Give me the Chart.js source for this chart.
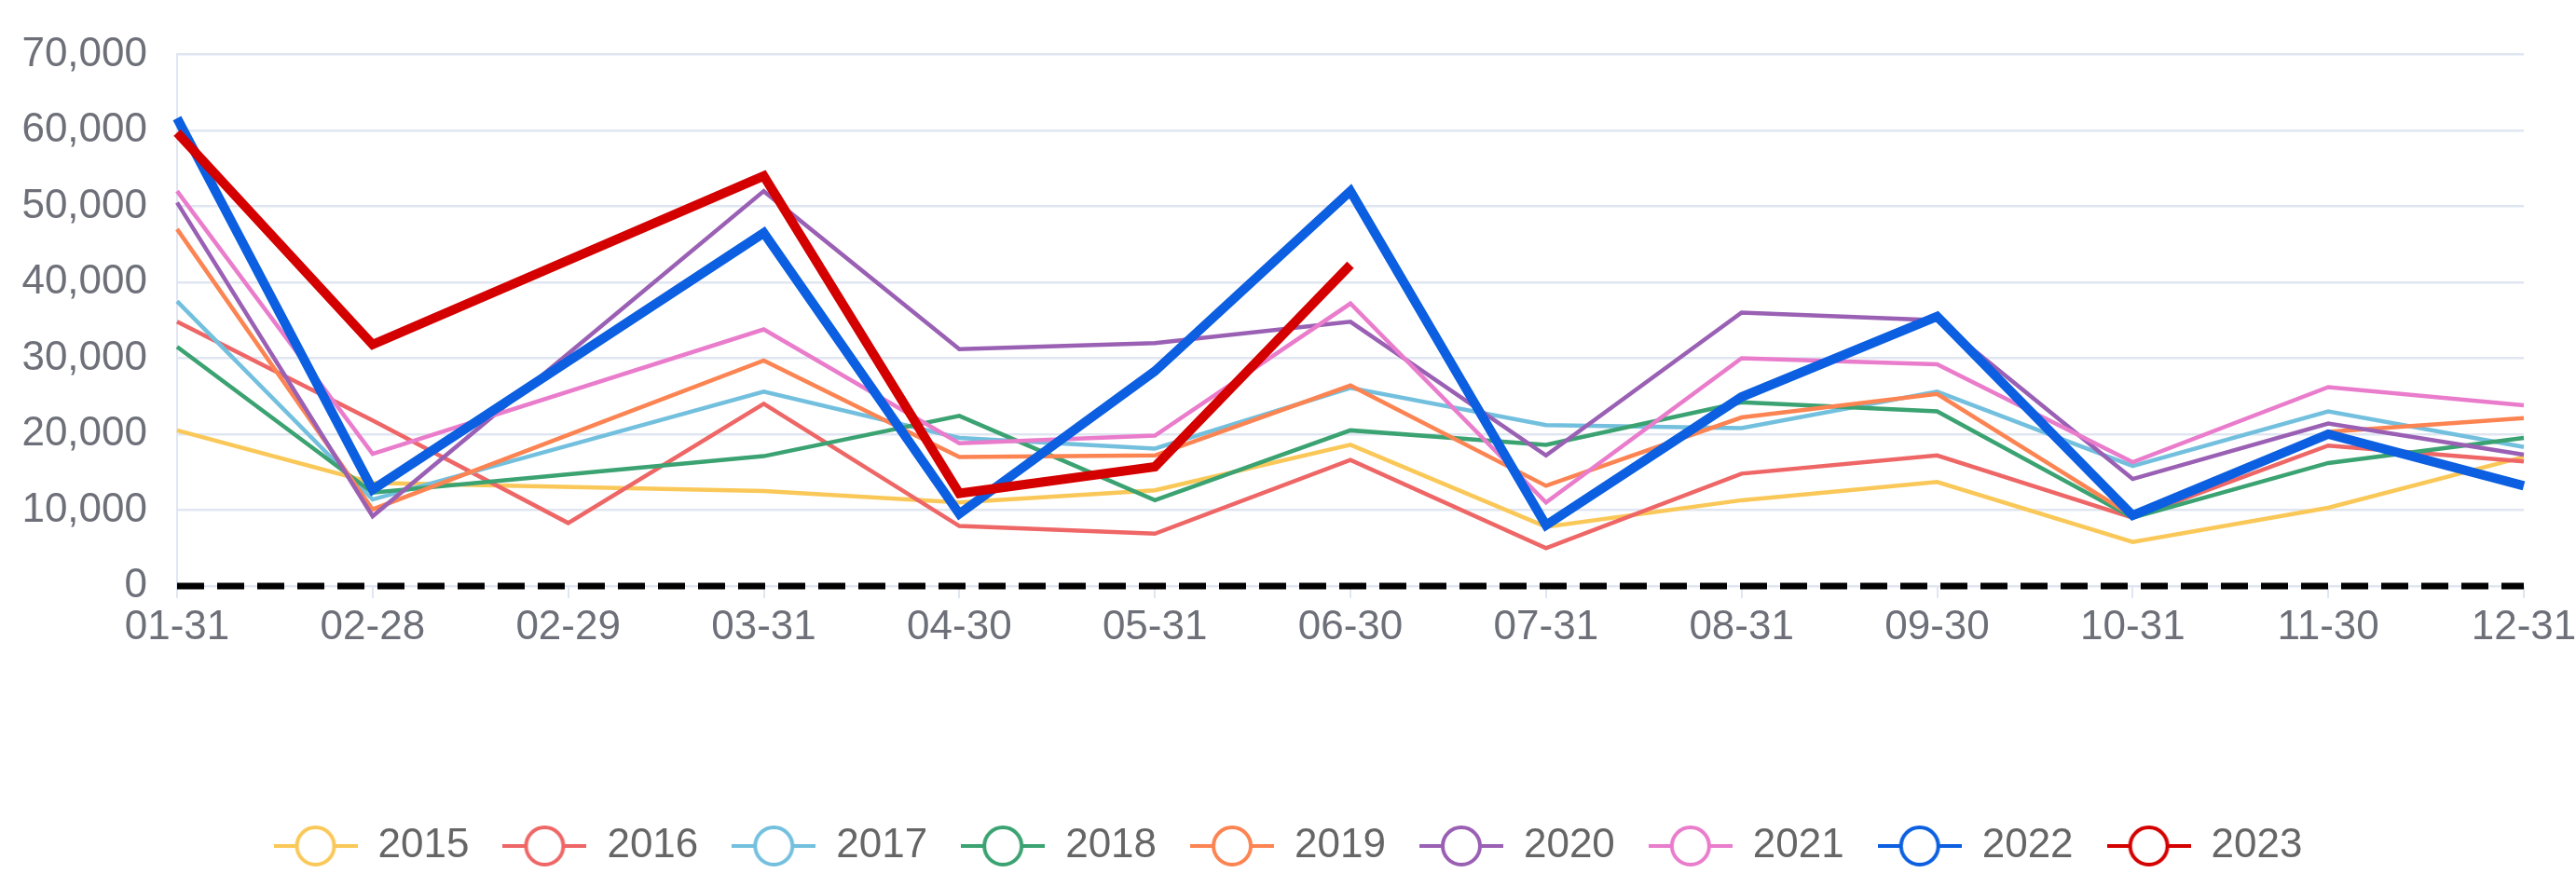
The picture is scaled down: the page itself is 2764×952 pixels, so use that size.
<!DOCTYPE html>
<html>
<head>
<meta charset="utf-8">
<script src="https://cdn.jsdelivr.net/npm/chart.js@4.4.1/dist/chart.umd.min.js"></script>
<style>
  html, body { margin: 0; padding: 0; background: #fff; }
</style>
</head>
<body>
<canvas id="yearChart" width="2764" height="952"></canvas>
<script>
// categories (month ends)
const labels = ['01-31', '02-28', '02-29', '03-31', '04-30', '05-31', '06-30', '07-31', '08-31', '09-30', '10-31', '11-30', '12-31'];

const years = ['2015', '2016', '2017', '2018', '2019', '2020', '2021', '2022', '2023'];
const colors = ['#fac858', '#ee6666', '#73c0de', '#3ba272', '#fc8452', '#9a60b4', '#ea7ccc', '#0b5fe0', '#d40000'];
const lineWidths = [4.5, 4.5, 4.5, 4.5, 4.5, 4.5, 4.5, 10, 10];

// values per year, null = no value for that date
const v2015 = [20500, 13600, null, 12500, 11000, 12600, 18600, 7800, 11300, 13700, 5800, 10300, 17000];
const v2016 = [34800, 21800, 8300, 24000, 7900, 6900, 16600, 5000, 14800, 17200, 9000, 18500, 16400];
const v2017 = [37500, 11400, null, 25600, 19500, 18100, 26100, 21200, 20800, 25600, 15800, 23000, 18300];
const v2018 = [31500, 12300, null, 17100, 22400, 11300, 20500, 18600, 24200, 23000, 9000, 16200, 19500];
const v2019 = [47000, 10100, null, 29700, 17000, 17200, 26400, 13200, 22200, 25300, 9200, 20300, 22100];
const v2020 = [50500, 9200, null, 52000, 31200, 32000, 34800, 17200, 36000, 35000, 14100, 21400, 17300];
const v2021 = [52000, 17400, null, 33800, 18800, 19800, 37200, 11000, 30000, 29200, 16300, 26200, 23800];
const v2022 = [61600, 12700, null, 46500, 9500, 28300, 52000, 8000, 24900, 35500, 9300, 20000, 13200];
const v2023 = [59700, 31800, null, 54000, 12200, 15700, 42300, null, null, null, null, null, null];
const series = [v2015, v2016, v2017, v2018, v2019, v2020, v2021, v2022, v2023];

// dashed reference line at zero
const zeroLine = [0, 0, 0, 0, 0, 0, 0, 0, 0, 0, 0, 0, 0];

// y axis
const yMin = 0;
const yMax = 70000;
const yStep = 10000;

const axisGray = '#6e7079';
const gridColor = '#e0e6f1';

/**
 * Legend icon: short line with an empty circle in the middle.
 */
function makeLegendIcon(color) {
    const c = document.createElement('canvas');
    c.width = 90;
    c.height = 48;
    const ctx = c.getContext('2d');
    ctx.strokeStyle = color;
    ctx.lineWidth = 4;
    ctx.beginPath();
    ctx.moveTo(0, 24);
    ctx.lineTo(90, 24);
    ctx.stroke();
    ctx.beginPath();
    ctx.arc(45, 24, 20, 0, Math.PI * 2);
    ctx.fillStyle = '#fff';
    ctx.fill();
    ctx.stroke();
    return c;
}

const legendIcons = colors.map(makeLegendIcon);

Chart.defaults.font.family = '"Liberation Sans", Arial, sans-serif';

const datasets = years.map((year, i) => ({
    label: year,
    data: series[i],
    borderColor: colors[i],
    backgroundColor: colors[i],
    borderWidth: lineWidths[i],
    pointRadius: 0,
    pointHoverRadius: 0,
    tension: 0,
    spanGaps: true,
    fill: false,
    order: years.length - i // later years on top
}));

datasets.push({
    label: 'zero',
    data: zeroLine,
    borderColor: '#000',
    borderWidth: 7,
    borderDash: [29, 14],
    pointRadius: 0,
    pointHoverRadius: 0,
    fill: false,
    clip: false,
    order: 20
});

new Chart(document.getElementById('yearChart'), {
    type: 'line',
    data: { labels: labels, datasets: datasets },
    options: {
        responsive: false,
        animation: false,
        layout: { padding: { top: 55, left: 0, right: 0, bottom: 12 } },
        plugins: {
            tooltip: { enabled: false },
            legend: {
                position: 'bottom',
                labels: {
                    usePointStyle: true,
                    pointStyleWidth: 90,
                    boxHeight: 44,
                    padding: 36,
                    color: '#666',
                    font: { size: 44 },
                    generateLabels: function (chart) {
                        const items = Chart.defaults.plugins.legend.labels.generateLabels(chart)
                            .filter(item => item.datasetIndex < years.length);
                        items.forEach(item => { item.pointStyle = legendIcons[item.datasetIndex]; });
                        return items.sort((a, b) => a.datasetIndex - b.datasetIndex);
                    }
                }
            }
        },
        scales: {
            x: {
                grid: {
                    drawOnChartArea: false,
                    drawTicks: true,
                    tickLength: 13,
                    color: gridColor,
                    lineWidth: 2
                },
                border: { display: false },
                ticks: {
                    color: axisGray,
                    font: { size: 44 },
                    padding: 5,
                    maxRotation: 0,
                    autoSkip: false
                },
                afterFit: function (scale) {
                    scale.height = 221;
                    scale.paddingLeft = 0;
                    scale.paddingRight = 56;
                }
            },
            y: {
                min: yMin,
                max: yMax,
                grid: { color: gridColor, lineWidth: 2.5, drawTicks: false },
                border: { display: true, color: gridColor, width: 2 },
                ticks: {
                    stepSize: yStep,
                    color: axisGray,
                    font: { size: 44 },
                    padding: 32,
                    callback: value => value.toLocaleString('en-US')
                },
                afterFit: function (scale) { scale.width = 190; }
            }
        }
    }
});
</script>
</body>
</html>
